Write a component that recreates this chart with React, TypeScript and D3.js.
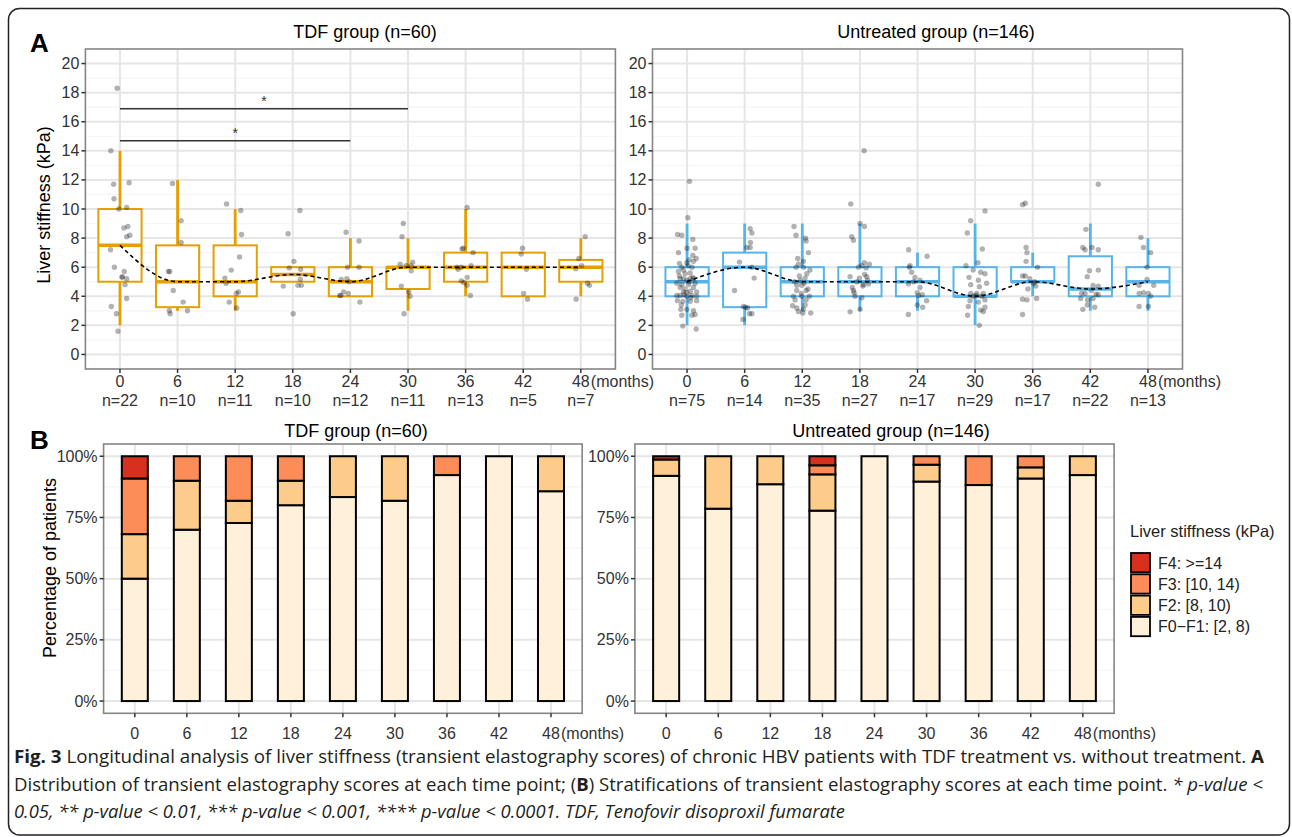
import React from 'react';
import * as d3 from 'd3';

const months = [0, 6, 12, 18, 24, 30, 36, 42, 48];
const tdfN = [22, 10, 11, 10, 12, 11, 13, 5, 7];
const untN = [75, 14, 35, 27, 17, 29, 17, 22, 13];

// box plot stats (kPa)
const tdfLow = [2, 3, 3, 5, 4, 3, 4, 4, 4];
const tdfQ1 = [5, 3.25, 4, 5, 4, 4.5, 5, 4, 5];
const tdfMedian = [7.5, 5, 5, 5.5, 5, 6, 6, 6, 6];
const tdfQ3 = [10, 7.5, 7.5, 6, 6, 6, 7, 7, 6.5];
const tdfHigh = [14, 12, 10, 6, 8, 8, 10, 7, 8];

const untLow = [2, 2, 3, 3, 3, 2, 4, 3, 3];
const untQ1 = [4, 3.25, 4, 4, 4, 4, 5, 4, 4];
const untMedian = [5, 6, 5, 5, 5, 4, 5, 4.5, 5];
const untQ3 = [6, 7, 6, 6, 6, 6, 6, 6.75, 6];
const untHigh = [9, 9, 9, 9, 7, 9, 7, 9, 8];

// jittered observations: [offset in months, kPa]
const tdfPoints = [
  [[-0.29, 18.3], [-0.95, 14.0], [-0.66, 11.7], [0.95, 11.8], [-0.62, 10.7], [0.7, 10.1], [-0.12, 10.0], [0.82, 8.8], [0.41, 8.7], [0.7, 8.1], [1.03, 8.2], [-0.99, 7.2], [-0.58, 6.0], [0.45, 5.7], [0.21, 5.3], [0.25, 5.35], [0.7, 5.2], [0.53, 4.8], [0.7, 3.85], [-0.9, 3.3], [-0.37, 2.8], [-0.21, 1.6]],
  [[-0.53, 11.75], [0.37, 9.2], [0.37, 7.7], [-0.95, 5.7], [-0.82, 5.7], [-0.45, 4.4], [0.58, 3.6], [-0.86, 3.0], [1.03, 3.0], [-0.78, 2.8]],
  [[-0.9, 10.35], [0.58, 9.9], [0.66, 8.25], [0.45, 6.7], [-0.41, 5.8], [-1.07, 5.25], [-0.95, 4.9], [0.33, 4.3], [0.12, 4.2], [-0.62, 3.6], [0.16, 3.2]],
  [[0.74, 9.9], [-0.49, 8.3], [0.12, 6.4], [-0.37, 5.95], [0.82, 5.85], [0.78, 5.15], [-0.99, 4.7], [0.53, 4.75], [0.9, 4.75], [0.04, 2.8]],
  [[-0.45, 8.4], [0.9, 7.8], [-0.29, 6.0], [0.9, 6.0], [-0.95, 5.15], [-0.37, 5.2], [-0.12, 5.0], [-0.7, 4.3], [-0.21, 4.2], [-0.99, 4.05], [-1.11, 4.05], [0.99, 3.6]],
  [[-0.49, 9.0], [-0.62, 8.1], [-0.82, 6.2], [0.49, 6.35], [0.33, 6.1], [-0.2, 6.1], [0.33, 5.75], [-0.7, 4.7], [0.08, 4.3], [0.21, 4.0], [-0.41, 2.8]],
  [[0.16, 10.1], [-0.25, 7.3], [-0.37, 7.25], [0.78, 7.0], [-0.9, 6.0], [-0.45, 6.0], [0.58, 6.1], [-0.78, 5.85], [0.16, 5.3], [-0.45, 5.05], [-0.16, 4.95], [0.16, 4.75], [0.49, 4.05]],
  [[-0.08, 7.3], [-0.21, 6.9], [0.33, 5.85], [0.04, 4.2], [0.45, 3.8]],
  [[0.45, 8.1], [-0.21, 6.6], [0.08, 6.1], [-0.53, 5.9], [0.7, 4.9], [0.9, 4.75], [-0.49, 3.8]],
];

const untPoints = [
  [[0.25, 11.9], [0.08, 9.4], [-0.99, 8.25], [-0.55, 8.2], [0.6, 7.9], [-0.89, 7.0], [0.0, 7.3], [0.84, 7.3], [0.6, 6.8], [0.95, 6.6], [0.67, 6.4], [-0.79, 6.25], [-0.02, 6.3], [0.22, 6.5], [-0.54, 6.0], [0.5, 6.0], [-0.37, 5.8], [-0.9, 5.7], [0.32, 5.6], [-0.2, 5.55], [-0.72, 5.2], [-0.37, 5.2], [0.32, 5.2], [0.67, 5.2], [-0.02, 5.1], [-1.07, 4.9], [-0.54, 4.8], [0.15, 4.8], [0.84, 4.9], [-0.72, 4.6], [0.67, 4.6], [-0.37, 4.3], [0.32, 4.35], [1.0, 4.3], [-0.02, 4.25], [-1.07, 4.05], [-0.72, 4.05], [0.5, 4.05], [1.0, 4.0], [-0.02, 4.0], [-1.0, 3.7], [-0.44, 3.65], [0.32, 3.65], [1.0, 3.7], [-0.65, 3.1], [-0.02, 3.1], [0.67, 3.0], [-0.55, 2.7], [0.5, 2.7], [0.84, 2.75], [-0.44, 1.95], [0.95, 1.75], [0.2, 5.0], [-0.2, 4.5], [0.4, 3.9], [-0.8, 5.4], [0.1, 6.1], [-0.3, 4.1], [0.6, 5.3], [-0.6, 3.4]],
  [[0.57, 8.65], [0.75, 8.35], [0.23, 7.35], [0.57, 7.35], [0.6, 7.7], [-0.54, 6.35], [0.75, 6.0], [0.99, 5.25], [-1.06, 4.4], [-0.12, 3.3], [0.1, 3.25], [0.3, 3.2], [0.5, 2.8], [0.75, 2.8], [-0.19, 2.4]],
  [[-0.86, 8.8], [-0.65, 8.2], [0.33, 8.0], [0.4, 7.8], [0.64, 7.0], [-0.47, 6.6], [0.12, 6.4], [-0.65, 6.0], [0.12, 6.0], [0.47, 5.55], [-0.3, 5.4], [0.29, 5.25], [-0.58, 4.75], [-0.05, 4.75], [-0.58, 4.4], [0.4, 4.4], [-0.92, 4.0], [-0.05, 4.0], [0.74, 4.0], [-0.75, 3.75], [0.4, 3.75], [-1.0, 3.35], [-0.58, 3.2], [0.12, 3.1], [-0.4, 2.95], [0.05, 2.85], [0.88, 2.85], [-0.2, 5.1], [0.2, 4.9], [-0.8, 5.0], [0.6, 4.5], [-0.4, 6.2], [0.3, 3.4], [-0.1, 4.2], [0.8, 5.8]],
  [[0.44, 14.0], [-0.95, 10.35], [0.02, 9.0], [0.47, 8.8], [-0.85, 8.1], [-0.67, 7.85], [0.47, 6.3], [0.99, 6.2], [0.2, 6.1], [-0.15, 6.0], [0.65, 5.95], [-1.02, 5.35], [-0.05, 5.25], [0.71, 5.35], [0.37, 4.8], [0.89, 4.85], [0.3, 4.7], [-0.67, 4.4], [-0.6, 4.25], [-0.5, 4.0], [-1.02, 2.93], [0.02, 3.1], [-0.3, 5.0], [0.5, 5.5], [-0.8, 4.6], [0.2, 3.9], [0.8, 5.1]],
  [[-0.92, 7.2], [1.0, 6.75], [-0.78, 6.1], [-0.85, 6.0], [-0.61, 5.65], [-0.26, 5.3], [0.26, 5.1], [-0.95, 4.85], [0.26, 4.6], [-0.02, 4.25], [0.1, 4.05], [0.95, 3.7], [-0.02, 3.4], [0.54, 3.25], [-0.95, 2.75], [0.5, 4.1], [-0.4, 5.0]],
  [[1.03, 9.87], [-0.46, 9.2], [-0.81, 8.35], [0.75, 7.25], [0.3, 6.3], [-0.95, 6.1], [-0.63, 5.3], [0.58, 5.65], [1.03, 5.55], [0.34, 5.1], [-0.46, 4.8], [1.2, 4.9], [0.44, 4.65], [-0.46, 4.2], [0.16, 4.2], [0.86, 4.2], [-0.18, 4.0], [-0.53, 3.7], [0.34, 3.6], [1.03, 3.75], [1.03, 3.25], [0.58, 3.05], [0.86, 2.95], [-0.78, 2.7], [0.44, 2.0], [0.1, 4.05], [-0.2, 5.8], [0.7, 4.0], [-0.7, 3.3]],
  [[-1.06, 10.3], [-0.78, 10.4], [-0.69, 7.35], [-0.6, 7.0], [-0.69, 6.4], [-1.06, 5.4], [-0.78, 5.4], [0.32, 4.7], [-1.06, 3.8], [-0.6, 3.75], [0.41, 3.85], [-1.06, 2.75], [0.2, 5.0], [-0.3, 5.2], [0.5, 6.0], [-0.5, 4.5], [0.1, 4.9]],
  [[0.83, 11.7], [-0.46, 8.6], [-0.78, 7.35], [-0.55, 7.2], [0.18, 7.35], [0.83, 7.2], [-0.09, 5.75], [0.83, 5.8], [-0.32, 5.35], [0.28, 4.75], [0.83, 4.7], [-0.92, 4.2], [-0.55, 4.2], [0.6, 4.15], [0.83, 4.1], [-1.01, 3.85], [-0.28, 3.75], [0.28, 3.85], [-0.32, 3.4], [0.46, 3.25], [-0.78, 3.1], [0.1, 4.4]],
  [[-0.73, 8.05], [-0.46, 7.35], [0.28, 7.0], [-0.09, 6.0], [-0.09, 5.15], [-0.92, 4.75], [0.6, 4.75], [-0.46, 4.25], [0.05, 4.2], [0.28, 4.0], [-0.92, 3.3], [0.05, 3.3], [-0.92, 4.2]],
];

// patient counts per stiffness class (panel B)
const tdfF01 = [11, 7, 8, 8, 10, 9, 12, 5, 6];
const tdfF2 = [4, 2, 1, 1, 2, 2, 0, 0, 1];
const tdfF3 = [5, 1, 2, 1, 0, 0, 1, 0, 0];
const tdfF4 = [2, 0, 0, 0, 0, 0, 0, 0, 0];

const untF01 = [69, 11, 31, 21, 17, 26, 15, 20, 12];
const untF2 = [5, 3, 4, 4, 0, 2, 0, 1, 1];
const untF3 = [0, 0, 0, 1, 0, 1, 2, 1, 0];
const untF4 = [1, 0, 0, 1, 0, 0, 0, 0, 0];

const classKeys = ['F01', 'F2', 'F3', 'F4'];
const classColors = ['#FEF0D9', '#FDCC8A', '#FC8D59', '#D7301F'];
const classLabels = ['F0\u2212F1: [2, 8)', 'F2: [8, 10)', 'F3: [10, 14)', 'F4: >=14'];

const yTicksA = [0, 2, 4, 6, 8, 10, 12, 14, 16, 18, 20];
const yTicksB = [0, 25, 50, 75, 100];

// significance brackets (TDF only)
const sigFrom = [0, 0];
const sigTo = [30, 24];
const sigAt = [16.9, 14.7];

const font = 'Liberation Sans, Arial, sans-serif';
const gridMajor = '#E6E6E6';
const gridMinor = '#F5F5F5';
const borderCol = '#858585';

function BoxPanel({ left, right, top, bottom, title, titleX, color, low, q1, med, q3, high, points, ns, sig }) {
  const x = d3.scalePoint().domain(months).range([left, right]).padding(0.6);
  const y = d3.scaleLinear().domain([-1, 21]).range([bottom, top]);
  const step = x.step();
  const perMonth = step / 6;
  const bw = step * 0.75;
  const minor = d3.range(1, 21, 2);
  const line = d3.line().x((d, i) => x(months[i])).y(d => y(d)).curve(d3.curveMonotoneX);

  return (
    <g fontFamily={font}>
      <text x={titleX} y={38} textAnchor="middle" fontSize={18}>{title}</text>
      <rect x={left} y={top} width={right - left} height={bottom - top} fill="white" />
      {minor.map(t => (
        <line key={'mi' + t} x1={left} x2={right} y1={y(t)} y2={y(t)} stroke={gridMinor} strokeWidth={1.2} />
      ))}
      {yTicksA.map(t => (
        <line key={'ma' + t} x1={left} x2={right} y1={y(t)} y2={y(t)} stroke={gridMajor} strokeWidth={2} />
      ))}
      {months.map(m => (
        <line key={'v' + m} x1={x(m)} x2={x(m)} y1={top} y2={bottom} stroke={gridMajor} strokeWidth={2} />
      ))}
      {months.map((m, i) => (
        <g key={'b' + m}>
          <line x1={x(m)} x2={x(m)} y1={y(high[i])} y2={y(q3[i])} stroke={color} strokeWidth={2.8} />
          <line x1={x(m)} x2={x(m)} y1={y(q1[i])} y2={y(low[i])} stroke={color} strokeWidth={2.8} />
          <rect x={x(m) - bw / 2} y={y(q3[i])} width={bw} height={y(q1[i]) - y(q3[i])} fill="white" stroke={color} strokeWidth={2} />
          <line x1={x(m) - bw / 2} x2={x(m) + bw / 2} y1={y(med[i])} y2={y(med[i])} stroke={color} strokeWidth={3.5} />
        </g>
      ))}
      {points.map((pts, i) => pts.map((p, j) => (
        <circle key={'p' + i + '_' + j} cx={x(months[i]) + p[0] * perMonth} cy={y(p[1])} r={2.7} fill="#000" fillOpacity={0.3} />
      )))}
      <path d={line(med)} fill="none" stroke="#000" strokeWidth={1.6} strokeDasharray="4,3" />
      {sig && sigFrom.map((f, i) => (
        <g key={'s' + i}>
          <line x1={x(f)} x2={x(sigTo[i])} y1={y(sigAt[i])} y2={y(sigAt[i])} stroke="#333" strokeWidth={1.5} />
          <text x={(x(f) + x(sigTo[i])) / 2} y={y(sigAt[i]) - 3} textAnchor="middle" fontSize={14} fill="#333">*</text>
        </g>
      ))}
      <rect x={left} y={top} width={right - left} height={bottom - top} fill="none" stroke={borderCol} strokeWidth={1.6} />
      {yTicksA.map(t => (
        <g key={'yt' + t}>
          <line x1={left - 4} x2={left} y1={y(t)} y2={y(t)} stroke="#333" strokeWidth={1.5} />
          <text x={left - 6} y={y(t) + 5.5} textAnchor="end" fontSize={16} fill="#333">{t}</text>
        </g>
      ))}
      {months.map((m, i) => (
        <g key={'xt' + m}>
          <line x1={x(m)} x2={x(m)} y1={bottom} y2={bottom + 4} stroke="#333" strokeWidth={1.5} />
          <text x={x(m)} y={387} textAnchor="middle" fontSize={16} fill="#333">{m}</text>
          <text x={x(m)} y={406} textAnchor="middle" fontSize={16} fill="#333">{'n=' + ns[i]}</text>
        </g>
      ))}
      <text x={x(48) + 10} y={387} fontSize={16} fill="#333">(months)</text>
    </g>
  );
}

function BarPanel({ left, right, top, bottom, title, titleX, f01, f2, f3, f4 }) {
  const x = d3.scalePoint().domain(months).range([left, right]).padding(0.6);
  const y = d3.scaleLinear().domain([-5, 105]).range([bottom, top]);
  const bw = x.step() * 0.5;
  const rows = months.map((m, i) => {
    const n = f01[i] + f2[i] + f3[i] + f4[i];
    return { month: m, F01: (f01[i] / n) * 100, F2: (f2[i] / n) * 100, F3: (f3[i] / n) * 100, F4: (f4[i] / n) * 100 };
  });
  const series = d3.stack().keys(classKeys)(rows);
  const minor = [12.5, 37.5, 62.5, 87.5];

  return (
    <g fontFamily={font}>
      <text x={titleX} y={437} textAnchor="middle" fontSize={18}>{title}</text>
      <rect x={left} y={top} width={right - left} height={bottom - top} fill="white" />
      {minor.map(t => (
        <line key={'mi' + t} x1={left} x2={right} y1={y(t)} y2={y(t)} stroke={gridMinor} strokeWidth={1.2} />
      ))}
      {yTicksB.map(t => (
        <line key={'ma' + t} x1={left} x2={right} y1={y(t)} y2={y(t)} stroke={gridMajor} strokeWidth={2} />
      ))}
      {months.map(m => (
        <line key={'v' + m} x1={x(m)} x2={x(m)} y1={top} y2={bottom} stroke={gridMajor} strokeWidth={2} />
      ))}
      {series.map((s, k) => s.map((d, i) => (
        d[1] - d[0] > 0 ? (
          <rect key={'r' + k + '_' + i} x={x(months[i]) - bw / 2} y={y(d[1])} width={bw} height={y(d[0]) - y(d[1])}
            fill={classColors[k]} stroke="#000" strokeWidth={2} />
        ) : null
      )))}
      <rect x={left} y={top} width={right - left} height={bottom - top} fill="none" stroke={borderCol} strokeWidth={1.6} />
      {yTicksB.map(t => (
        <g key={'yt' + t}>
          <line x1={left - 4} x2={left} y1={y(t)} y2={y(t)} stroke="#333" strokeWidth={1.5} />
          <text x={left - 6} y={y(t) + 5.5} textAnchor="end" fontSize={16} fill="#333">{t + '%'}</text>
        </g>
      ))}
      {months.map(m => (
        <g key={'xt' + m}>
          <line x1={x(m)} x2={x(m)} y1={bottom} y2={bottom + 4} stroke="#333" strokeWidth={1.5} />
          <text x={x(m)} y={739} textAnchor="middle" fontSize={16} fill="#333">{m}</text>
        </g>
      ))}
      <text x={x(48) + 10} y={739} fontSize={16} fill="#333">(months)</text>
    </g>
  );
}

function Legend({ x0, y0 }) {
  const order = [3, 2, 1, 0];
  return (
    <g fontFamily={font}>
      <text x={x0} y={y0} fontSize={16.5} fill="#222">Liver stiffness (kPa)</text>
      {order.map((k, i) => (
        <g key={k}>
          <rect x={x0 + 1} y={y0 + 16 + i * 21.3} width={19} height={19.3} fill={classColors[k]} stroke="#000" strokeWidth={1.8} />
          <text x={x0 + 28} y={y0 + 31.5 + i * 21.3} fontSize={16} fill="#222">{classLabels[k]}</text>
        </g>
      ))}
    </g>
  );
}

export default function App() {
  return (
    <svg width={1292} height={837} style={{ position: 'absolute', left: 0, top: 0, background: 'white' }}>
      <rect x={8.5} y={8.5} width={1281} height={826.5} rx={11} fill="white" stroke="#222" strokeWidth={1.5} />
      <text x={30} y={52} fontFamily={font} fontWeight="bold" fontSize={26}>A</text>
      <text x={30} y={449} fontFamily={font} fontWeight="bold" fontSize={26}>B</text>

      <text transform="translate(50,205) rotate(-90)" textAnchor="middle" fontFamily={font} fontSize={18}>Liver stiffness (kPa)</text>
      <text transform="translate(56,568) rotate(-90)" textAnchor="middle" fontFamily={font} fontSize={18}>Percentage of patients</text>

      <BoxPanel left={85.4} right={615.4} top={49} bottom={369} title="TDF group (n=60)" titleX={365}
        color="#E69F00" low={tdfLow} q1={tdfQ1} med={tdfMedian} q3={tdfQ3} high={tdfHigh}
        points={tdfPoints} ns={tdfN} sig={true} />
      <BoxPanel left={652.5} right={1182.5} top={49} bottom={369} title="Untreated group (n=146)" titleX={936}
        color="#56B4E9" low={untLow} q1={untQ1} med={untMedian} q3={untQ3} high={untHigh}
        points={untPoints} ns={untN} sig={false} />

      <BarPanel left={103.6} right={582.2} top={444} bottom={713.3} title="TDF group (n=60)" titleX={356}
        f01={tdfF01} f2={tdfF2} f3={tdfF3} f4={tdfF4} />
      <BarPanel left={634.9} right={1114.1} top={444} bottom={713.3} title="Untreated group (n=146)" titleX={891}
        f01={untF01} f2={untF2} f3={untF3} f4={untF4} />

      <Legend x0={1130} y0={537} />

      <g fontFamily="Open Sans, sans-serif" fontSize={18} fill="#231F20">
        <text x={14} y={763} textLength={1250} lengthAdjust="spacingAndGlyphs">
          <tspan fontWeight="bold">Fig. 3</tspan> Longitudinal analysis of liver stiffness (transient elastography scores) of chronic HBV patients with TDF treatment vs. without treatment. <tspan fontWeight="bold">A</tspan>
        </text>
        <text x={14} y={791} textLength={1249} lengthAdjust="spacingAndGlyphs">
          Distribution of transient elastography scores at each time point; (<tspan fontWeight="bold">B</tspan>) Stratifications of transient elastography scores at each time point. <tspan fontStyle="italic">* p-value &lt;</tspan>
        </text>
        <text x={14} y={818} textLength={831} lengthAdjust="spacingAndGlyphs" fontStyle="italic">
          0.05, ** p-value &lt; 0.01, *** p-value &lt; 0.001, **** p-value &lt; 0.0001. TDF, Tenofovir disoproxil fumarate
        </text>
      </g>
    </svg>
  );
}
